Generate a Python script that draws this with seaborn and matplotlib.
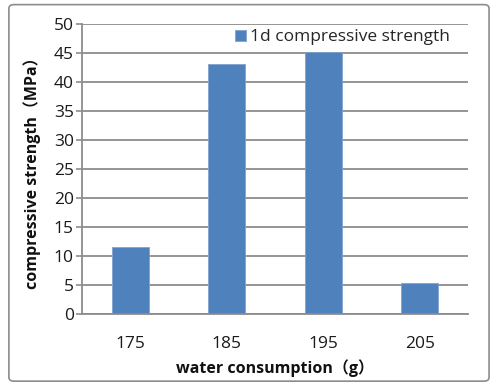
import matplotlib
matplotlib.use("Agg")
import matplotlib.pyplot as plt
import seaborn as sns
import pandas as pd
from matplotlib.patches import FancyBboxPatch

categories = ["175", "185", "195", "205"]
values = [11.5, 43.2, 45.2, 5.25]
series_name = "1d compressive strength"
yticks = [0, 5, 10, 15, 20, 25, 30, 35, 40, 45, 50]

df = pd.DataFrame({"water": categories, "strength": values, "series": series_name})

sns.set_theme(style="white")
plt.rcParams['font.family'] = ['Open Sans', 'Noto Sans CJK SC', 'DejaVu Sans']

fig = plt.figure(figsize=(4.95, 3.85), dpi=100)
ax = fig.add_axes([0.1657, 0.1852, 0.9455 - 0.1657, 0.9364 - 0.1852])

sns.barplot(data=df, x="water", y="strength", hue="series", order=categories,
            palette=["#4F81BD"], width=0.385, ax=ax, saturation=1, legend=True,
            edgecolor="#7fa3d0", linewidth=0.6)

ax.set_ylim(0, 50)
ax.set_xlim(-0.5, 3.5)
ax.set_yticks(yticks)
ax.set_yticklabels([str(t) for t in yticks])
ax.yaxis.grid(True, color="#8c8c8c", linewidth=1.3)
ax.set_axisbelow(True)
for s in ["top", "right"]:
    ax.spines[s].set_visible(False)
for s in ["left", "bottom"]:
    ax.spines[s].set_color("#8c8c8c")
    ax.spines[s].set_linewidth(1.3)
ax.tick_params(axis="y", left=True, length=4, color="#8c8c8c", width=1.2, labelsize=12.5, pad=2, labelcolor="#1a1a1a")
ax.tick_params(axis="x", bottom=False, labelsize=12.5, pad=10, labelcolor="#1a1a1a")

ax.set_xlabel("water consumption（g）", fontsize=11.5, fontweight="bold", labelpad=5, color="#111111")
ax.set_ylabel("compressive strength（MPa）", fontsize=11.5, fontweight="bold", color="#111111")
ax.yaxis.set_label_coords(-0.107, 0.5)

leg = ax.legend(loc="upper right", bbox_to_anchor=(0.985, 1.025), frameon=False, fontsize=12.5,
                handlelength=0.65, handleheight=0.65, handletextpad=0.25, borderaxespad=0.3)

frame = FancyBboxPatch((0.018, 0.01), 0.97, 0.978, boxstyle="round,pad=0,rounding_size=0.01",
                       transform=fig.transFigure, fill=False, edgecolor="#8c8c8c", linewidth=1.2)
fig.patches.append(frame)

fig.savefig("out.png", dpi=100)
